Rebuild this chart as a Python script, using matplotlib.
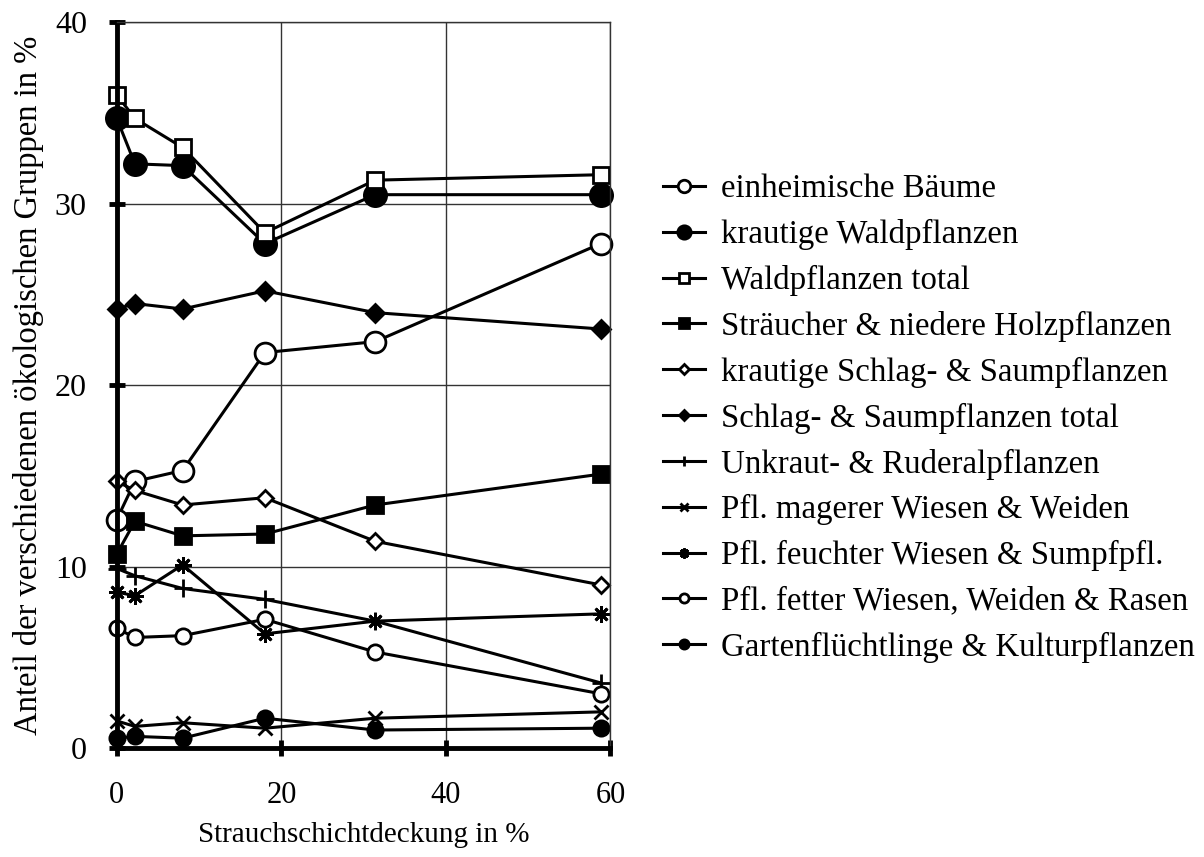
import matplotlib
matplotlib.use("Agg")
from matplotlib import pyplot as plt

plt.rcParams['font.family'] = ['Liberation Serif', 'DejaVu Serif']

# Strauchschichtdeckung in %
deckung = [0, 2.2, 8, 18, 31.4, 58.8]

labels = [
    "einheimische Bäume",
    "krautige Waldpflanzen",
    "Waldpflanzen total",
    "Sträucher & niedere Holzpflanzen",
    "krautige Schlag- & Saumpflanzen",
    "Schlag- & Saumpflanzen total",
    "Unkraut- & Ruderalpflanzen",
    "Pfl. magerer Wiesen & Weiden",
    "Pfl. feuchter Wiesen & Sumpfpfl.",
    "Pfl. fetter Wiesen, Weiden & Rasen",
    "Gartenflüchtlinge & Kulturpflanzen",
]

baeume = [12.6, 14.7, 15.3, 21.8, 22.4, 27.8]
kraut_wald = [34.7, 32.2, 32.1, 27.8, 30.5, 30.5]
wald_total = [36.0, 34.7, 33.1, 28.4, 31.3, 31.6]
straeucher = [10.7, 12.5, 11.7, 11.8, 13.4, 15.1]
kraut_schlag = [14.7, 14.2, 13.4, 13.8, 11.4, 9.0]
schlag_total = [24.2, 24.5, 24.2, 25.2, 24.0, 23.1]
unkraut = [9.9, 9.5, 8.8, 8.2, 7.0, 3.6]
mager = [1.5, 1.2, 1.4, 1.1, 1.65, 2.0]
feucht = [8.6, 8.4, 10.1, 6.3, 7.0, 7.4]
fett = [6.6, 6.1, 6.2, 7.1, 5.3, 3.0]
garten = [0.55, 0.65, 0.55, 1.65, 1.0, 1.1]

series = [baeume, kraut_wald, wald_total, straeucher, kraut_schlag,
          schlag_total, unkraut, mager, feucht, fett, garten]

# marker, size, face colour
styles = [
    ('o', 15, 'white'),
    ('o', 16, 'black'),
    ('s', 11, 'white'),
    ('s', 12, 'black'),
    ('D', 8, 'white'),
    ('D', 9, 'black'),
    ('+', 13, 'black'),
    ('x', 10, 'black'),
    ((8, 2, 0), 12, 'black'),
    ('o', 11, 'white'),
    ('o', 11, 'black'),
]

fig = plt.figure(figsize=(12.04, 8.57), dpi=100)
ax = fig.add_axes([0.097, 0.127, 0.41, 0.847])

for vals, lab, (mk, ms, fc) in zip(series, labels, styles):
    ax.plot(deckung, vals, color='black', linewidth=2.2, marker=mk,
            markersize=ms, markerfacecolor=fc, markeredgecolor='black',
            markeredgewidth=2.0, label=lab, clip_on=False)

ax.set_xlim(0, 60)
ax.set_ylim(0, 40)
ax.set_xticks([0, 20, 40, 60])
ax.set_yticks([0, 10, 20, 30, 40])
ax.grid(True, color='#333333', linewidth=1.0)
ax.set_axisbelow(True)

for side in ('left', 'bottom'):
    ax.spines[side].set_linewidth(3.5)
for side in ('top', 'right'):
    ax.spines[side].set_linewidth(1.0)
    ax.spines[side].set_color('#333333')

ax.tick_params(direction='inout', length=11, width=3.5)
ax.tick_params(axis='y', labelsize=23, pad=16)
ax.tick_params(axis='x', labelsize=22, pad=18)

ax.set_xlabel("Strauchschichtdeckung in %", fontsize=21, labelpad=9)
ax.set_ylabel("Anteil der verschiedenen ökologischen Gruppen in %",
              fontsize=23.5, labelpad=8)

fig.legend(loc='center left', bbox_to_anchor=(0.540, 0.512), frameon=False,
           fontsize=23.7, markerscale=0.6, handlelength=1.26,
           handletextpad=0.5, labelspacing=0.45, borderaxespad=0)

fig.savefig("out.png", dpi=100)
